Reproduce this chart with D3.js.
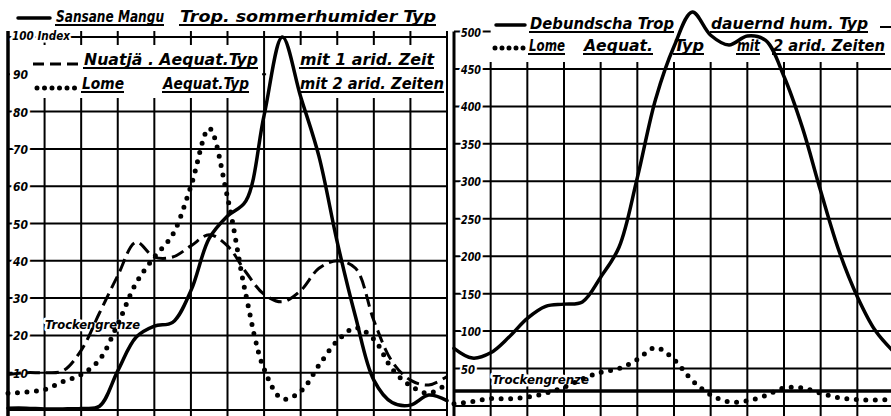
<!DOCTYPE html>
<html>
<head>
<meta charset="utf-8">
<script src="https://cdn.jsdelivr.net/npm/d3@7"></script>
<style>
  body { margin: 0; background: #fff; }
  svg { display: block; }
  text {
    font-family: "Liberation Sans Narrow", "DejaVu Sans Condensed", "Liberation Sans", sans-serif;
    font-style: italic;
    font-weight: bold;
    fill: #000;
  }
  .knock { stroke: #fff; stroke-width: 5px; paint-order: stroke; stroke-linejoin: round; }
</style>
</head>
<body>
<svg id="chart" width="891" height="416"></svg>
<script>
"use strict";

// half-month positions (0 = start of January, 12 = end of December)
var months = [0, 0.5, 1, 1.5, 2, 2.5, 3, 3.5, 4, 4.5, 5, 5.5, 6, 6.5, 7, 7.5, 8, 8.5, 9, 9.5, 10, 10.5, 11, 11.5, 12];

// left panel (index 0..100)
var sansane = [0.5, 0.5, 0.3, 0.3, 0.4, 1, 10.5, 19.5, 22.5, 23.5, 32, 46, 52, 56, 79, 100, 84, 68, 45, 25, 8, 2, 1.3, 4, 2.5];
var nuatja  = [9.5, 10, 10, 10.5, 16, 26, 36, 45, 41, 41, 44, 47, 44, 37, 31, 29, 32, 38, 40, 38, 24, 13, 8, 6.7, 9];
var lomeLeft = [4.5, 4.8, 5.5, 7.6, 9.5, 13.5, 23, 34, 41, 47, 60, 75.5, 57, 31, 11, 3, 5, 12, 18.5, 22, 19, 11, 6.5, 4.5, 7];

// right panel (index 0..500)
var debundscha = [77, 64, 71, 92, 117, 133, 136, 139, 172, 212, 305, 410, 480, 526, 495, 482, 494, 488, 440, 372, 287, 207, 146, 100, 72];
var lomeRight  = [3, 6, 10, 9.5, 12, 17, 25, 36, 45, 50, 62, 78, 62, 34, 15, 5.5, 7, 14, 24, 24, 17, 11, 8.5, 8, 9];

var monthTicks = [0, 1, 2, 3, 4, 5, 6, 7, 8, 9, 10, 11, 12];
var leftTicks = [0, 10, 20, 30, 40, 50, 60, 70, 80, 90, 100];
var leftLabels = ["10", "20", "30", "40", "50", "60", "70", "80", "90"];
var rightTicks = [0, 50, 100, 150, 200, 250, 300, 350, 400, 450];
var rightLabels = ["50", "100", "150", "200", "250", "300", "350", "400", "450", "500"];
var dryLeft = 20, dryRight = 20;

var svg = d3.select("#chart");

var xL = d3.scaleLinear().domain([0, 12]).range([8, 447]);
var yL = d3.scaleLinear().domain([0, 100]).range([410, 37]);
var xR = d3.scaleLinear().domain([0, 12]).range([454, 894]);
var yR = d3.scaleLinear().domain([0, 500]).range([406, 31.5]);

var line = function(x, y) {
  return d3.line()
    .x(function(d, i) { return x(months[i]); })
    .y(function(d) { return y(d); })
    .curve(d3.curveCatmullRom.alpha(0.5));
};

// ---- left grid
var gridL = svg.append("g").attr("stroke", "#000").attr("stroke-width", 2);
gridL.selectAll(".h").data(leftTicks).enter().append("line")
  .attr("x1", xL(0)).attr("x2", xL(12))
  .attr("y1", function(d) { return yL(d); })
  .attr("y2", function(d) { return yL(d); });
gridL.selectAll(".v").data(monthTicks).enter().append("line")
  .attr("x1", function(d) { return xL(d); })
  .attr("x2", function(d) { return xL(d); })
  .attr("y1", 31).attr("y2", 416)
  .attr("stroke-width", function(d) { return d == 0 ? 3.5 : 2; });

// white legend boxes, leaving the July line through
svg.append("rect").attr("x", xL(0) + 2).attr("y", 45).attr("width", xL(7) - xL(0) - 4).attr("height", 53).attr("fill", "#fff");
svg.append("rect").attr("x", xL(7) + 2).attr("y", 45).attr("width", xL(12) - xL(7) - 3).attr("height", 53).attr("fill", "#fff");

svg.selectAll(".lblL").data(leftLabels).enter().append("text")
  .attr("class", "knock")
  .attr("x", 13).attr("y", function(d) { return yL(+d) + 5; })
  .attr("textLength", 15).attr("lengthAdjust", "spacingAndGlyphs")
  .style("font-size", "13px")
  .text(function(d) { return d; });
svg.append("text").attr("class", "knock")
  .attr("x", 12).attr("y", yL(100) + 3)
  .attr("textLength", 58).attr("lengthAdjust", "spacingAndGlyphs")
  .style("font-size", "12px")
  .text("100 Index");

svg.append("text").attr("class", "knock")
  .attr("x", 45).attr("y", yL(dryLeft) - 6)
  .attr("textLength", 95).attr("lengthAdjust", "spacingAndGlyphs")
  .style("font-size", "12px")
  .text("Trockengrenze");

// ---- right grid
var gridR = svg.append("g").attr("stroke", "#000").attr("stroke-width", 2);
gridR.selectAll(".h").data(rightTicks).enter().append("line")
  .attr("x1", xR(0)).attr("x2", 891)
  .attr("y1", function(d) { return yR(d); })
  .attr("y2", function(d) { return yR(d); });
gridR.append("line")
  .attr("x1", xR(0)).attr("x2", 891)
  .attr("y1", yR(dryRight)).attr("y2", yR(dryRight))
  .attr("stroke-width", 3.5);
gridR.append("line")
  .attr("x1", xR(0)).attr("x2", xR(1))
  .attr("y1", yR(500)).attr("y2", yR(500));
gridR.selectAll(".v").data(monthTicks.slice(1)).enter().append("line")
  .attr("x1", function(d) { return xR(d); })
  .attr("x2", function(d) { return xR(d); })
  .attr("y1", 62).attr("y2", 416);
gridR.append("line")
  .attr("x1", xR(0)).attr("x2", xR(0))
  .attr("y1", yR(500)).attr("y2", 416)
  .attr("stroke-width", 3);

svg.selectAll(".lblR").data(rightLabels).enter().append("text")
  .attr("class", "knock")
  .attr("x", 461).attr("y", function(d) { return yR(+d) + 5; })
  .attr("textLength", function(d) { return d.length == 2 ? 14 : 20; })
  .attr("lengthAdjust", "spacingAndGlyphs")
  .style("font-size", "13px")
  .text(function(d) { return d; });

svg.append("text").attr("class", "knock")
  .attr("x", 492).attr("y", yR(dryRight) - 7)
  .attr("textLength", 97).attr("lengthAdjust", "spacingAndGlyphs")
  .style("font-size", "13px")
  .text("Trockengrenze");

// ---- curves
var solid = function(path) {
  return path.attr("fill", "none").attr("stroke", "#000").attr("stroke-width", 3.5)
    .attr("stroke-linejoin", "round").attr("stroke-linecap", "round");
};
var dashed = function(path) {
  return path.attr("fill", "none").attr("stroke", "#000").attr("stroke-width", 3)
    .attr("stroke-dasharray", "13 6");
};
var dotted = function(path) {
  return path.attr("fill", "none").attr("stroke", "#000").attr("stroke-width", 5)
    .attr("stroke-linecap", "round").attr("stroke-dasharray", "0 9.5");
};

svg.append("path").datum(nuatja).attr("d", line(xL, yL)).call(dashed);
svg.append("path").datum(lomeLeft).attr("d", line(xL, yL)).call(dotted);
svg.append("path").datum(sansane).attr("d", line(xL, yL)).call(solid);
svg.append("path").datum(lomeRight).attr("d", line(xR, yR)).call(dotted);
svg.append("path").datum(debundscha).attr("d", line(xR, yR)).call(solid);

// ---- legends
var legend = [
  {text: "Sansane Mangu", x: 56, y: 22, w: 108, size: 16},
  {text: "Trop. sommerhumider Typ", x: 180, y: 22, w: 256, size: 16},
  {text: "Nuatjä . Aequat.Typ", x: 84, y: 65, w: 174, size: 15},
  {text: "mit 1 arid. Zeit", x: 300, y: 65, w: 134, size: 15},
  {text: "Lome", x: 82, y: 89, w: 42, size: 15},
  {text: "Aequat.Typ", x: 163, y: 89, w: 86, size: 15},
  {text: "mit 2 arid. Zeiten", x: 300, y: 89, w: 144, size: 15},
  {text: "Debundscha Trop", x: 530, y: 29, w: 144, size: 15},
  {text: "dauernd hum. Typ", x: 711, y: 29, w: 157, size: 15},
  {text: "Lome", x: 529, y: 51, w: 36, size: 15},
  {text: "Aequat.", x: 584, y: 51, w: 69, size: 15},
  {text: "Typ", x: 674, y: 51, w: 30, size: 15},
  {text: "mit", x: 737, y: 51, w: 23, size: 15},
  {text: "2 arid. Zeiten", x: 773, y: 51, w: 112, size: 15}
];

var lg = svg.append("g").selectAll("g").data(legend).enter().append("g");
lg.append("text")
  .attr("x", function(d) { return d.x; })
  .attr("y", function(d) { return d.y; })
  .attr("textLength", function(d) { return d.w; })
  .attr("lengthAdjust", "spacingAndGlyphs")
  .style("font-size", function(d) { return d.size + "px"; })
  .text(function(d) { return d.text; });
lg.append("line")
  .attr("x1", function(d) { return d.x - 1; })
  .attr("x2", function(d) { return d.x + d.w; })
  .attr("y1", function(d) { return d.y + 3; })
  .attr("y2", function(d) { return d.y + 3; })
  .attr("stroke", "#000").attr("stroke-width", 2);

// legend samples
svg.append("path").attr("d", "M18,18L50,18").call(solid);
svg.append("path").attr("d", "M33,64L80,64").call(dashed).attr("stroke-dasharray", "11 6");
svg.append("path").attr("d", "M37,88L76,88").call(dotted).attr("stroke-dasharray", "0 7.5");
svg.append("path").attr("d", "M496,25L525,25").call(solid);
svg.append("path").attr("d", "M495,48L527,48").call(dotted).attr("stroke-dasharray", "0 7");
svg.append("line").attr("x1", 880).attr("x2", 891).attr("y1", 27).attr("y2", 27)
  .attr("stroke", "#000").attr("stroke-width", 2);
</script>
</body>
</html>
